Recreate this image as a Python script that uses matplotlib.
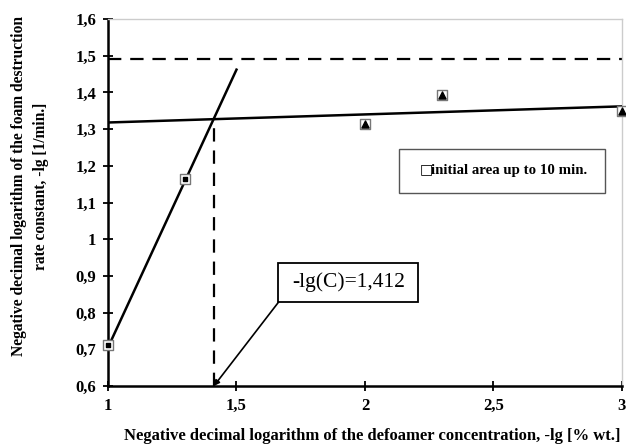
import numpy as np
import matplotlib
matplotlib.use("Agg")
import matplotlib.pyplot as plt
from matplotlib.patches import Rectangle

plt.rcParams["font.family"] = ["Liberation Serif", "DejaVu Sans"]

# measured points
x_sq = [1.0, 1.3]
y_sq = [0.711, 1.164]
x_tri = [2.0, 2.3, 3.0]
y_tri = [1.313, 1.393, 1.350]

# fitted lines
steep_x = [1.0, 1.5]
steep_y = [0.705, 1.462]
flat_x = [1.0, 3.0]
flat_y = [1.318, 1.362]
plateau_y = 1.49
x_cross = 1.412
y_cross = 1.325

xticks = [1, 1.5, 2, 2.5, 3]
xtick_labels = ["1", "1,5", "2", "2,5", "3"]
yticks = [0.6, 0.7, 0.8, 0.9, 1.0, 1.1, 1.2, 1.3, 1.4, 1.5, 1.6]
ytick_labels = ["0,6", "0,7", "0,8", "0,9", "1", "1,1", "1,2", "1,3", "1,4", "1,5", "1,6"]

fig = plt.figure(figsize=(6.26, 4.46), dpi=100)
ax = fig.add_axes([0.1725, 0.1345, 0.8211, 0.8229])
ax.set_xlim(1, 3)
ax.set_ylim(0.6, 1.6)

ax.plot(steep_x, steep_y, color="black", lw=1.8, zorder=3)
ax.plot(flat_x, flat_y, color="black", lw=1.8, zorder=3)
ax.axhline(plateau_y, color="black", lw=1.6, ls=(0, (6, 4)), zorder=2)
ax.plot([x_cross, x_cross], [0.6, y_cross], color="black", lw=1.6, ls=(0, (6, 4)), zorder=2)

# markers: open grey squares with a black core
allx = x_sq + x_tri
ally = y_sq + y_tri
ax.scatter(allx, ally, marker="s", s=48, facecolor="white", edgecolor="#777777",
           linewidth=1.0, zorder=4, clip_on=False)
ax.scatter(x_sq, y_sq, marker="s", s=10, color="black", zorder=5, clip_on=False)
ax.scatter(x_tri, y_tri, marker="^", s=26, color="black", zorder=5, clip_on=False)

# legend-like box
ax.add_patch(Rectangle((2.134, 1.1255), 0.801, 0.12, facecolor="white",
                       edgecolor="#555555", lw=1.0, zorder=6))
ax.text(2.212, 1.191, "□", fontsize=10, family=["DejaVu Sans"], va="center",
        ha="left", zorder=7)
ax.text(2.258, 1.186, "initial area up to 10 min.", fontsize=10.7, fontweight="bold",
        va="center", ha="left", zorder=7)

# annotation box with arrow
ax.add_patch(Rectangle((1.663, 0.828), 0.545, 0.107, facecolor="white",
                       edgecolor="black", lw=1.3, zorder=6))
ax.text(1.936, 0.883, "-lg(C)=1,412", fontsize=15.5, ha="center", va="center", zorder=7)
ax.annotate("", xy=(x_cross, 0.6), xytext=(1.663, 0.828),
            arrowprops=dict(arrowstyle="-|>", color="black", lw=1.2,
                            mutation_scale=8, shrinkA=0, shrinkB=0), zorder=7)

ax.set_xticks(xticks)
ax.set_xticklabels(xtick_labels)
ax.set_yticks(yticks)
ax.set_yticklabels(ytick_labels)
for lab in ax.get_xticklabels() + ax.get_yticklabels():
    lab.set_fontweight("bold")
    lab.set_fontsize(12)
ax.tick_params(direction="inout", length=7, width=1.3, pad=5)

ax.spines["left"].set_linewidth(1.8)
ax.spines["bottom"].set_linewidth(1.8)
ax.spines["top"].set_color("#cccccc")
ax.spines["right"].set_color("#cccccc")
ax.spines["top"].set_linewidth(1.0)
ax.spines["right"].set_linewidth(1.0)

fig.text(0.595, 1 - 436 / 446, "Negative decimal logarithm of the defoamer concentration, -lg [% wt.]",
         fontsize=12, fontweight="bold", ha="center", va="center")
fig.text(30 / 626, 1 - 186 / 446,
         "Negative decimal logarithm of the foam destruction\nrate constant, -lg [1/min.]",
         fontsize=11.2, fontweight="bold", rotation=90, ha="center", va="center",
         multialignment="center", linespacing=1.5)

fig.savefig("out.png", dpi=100)
